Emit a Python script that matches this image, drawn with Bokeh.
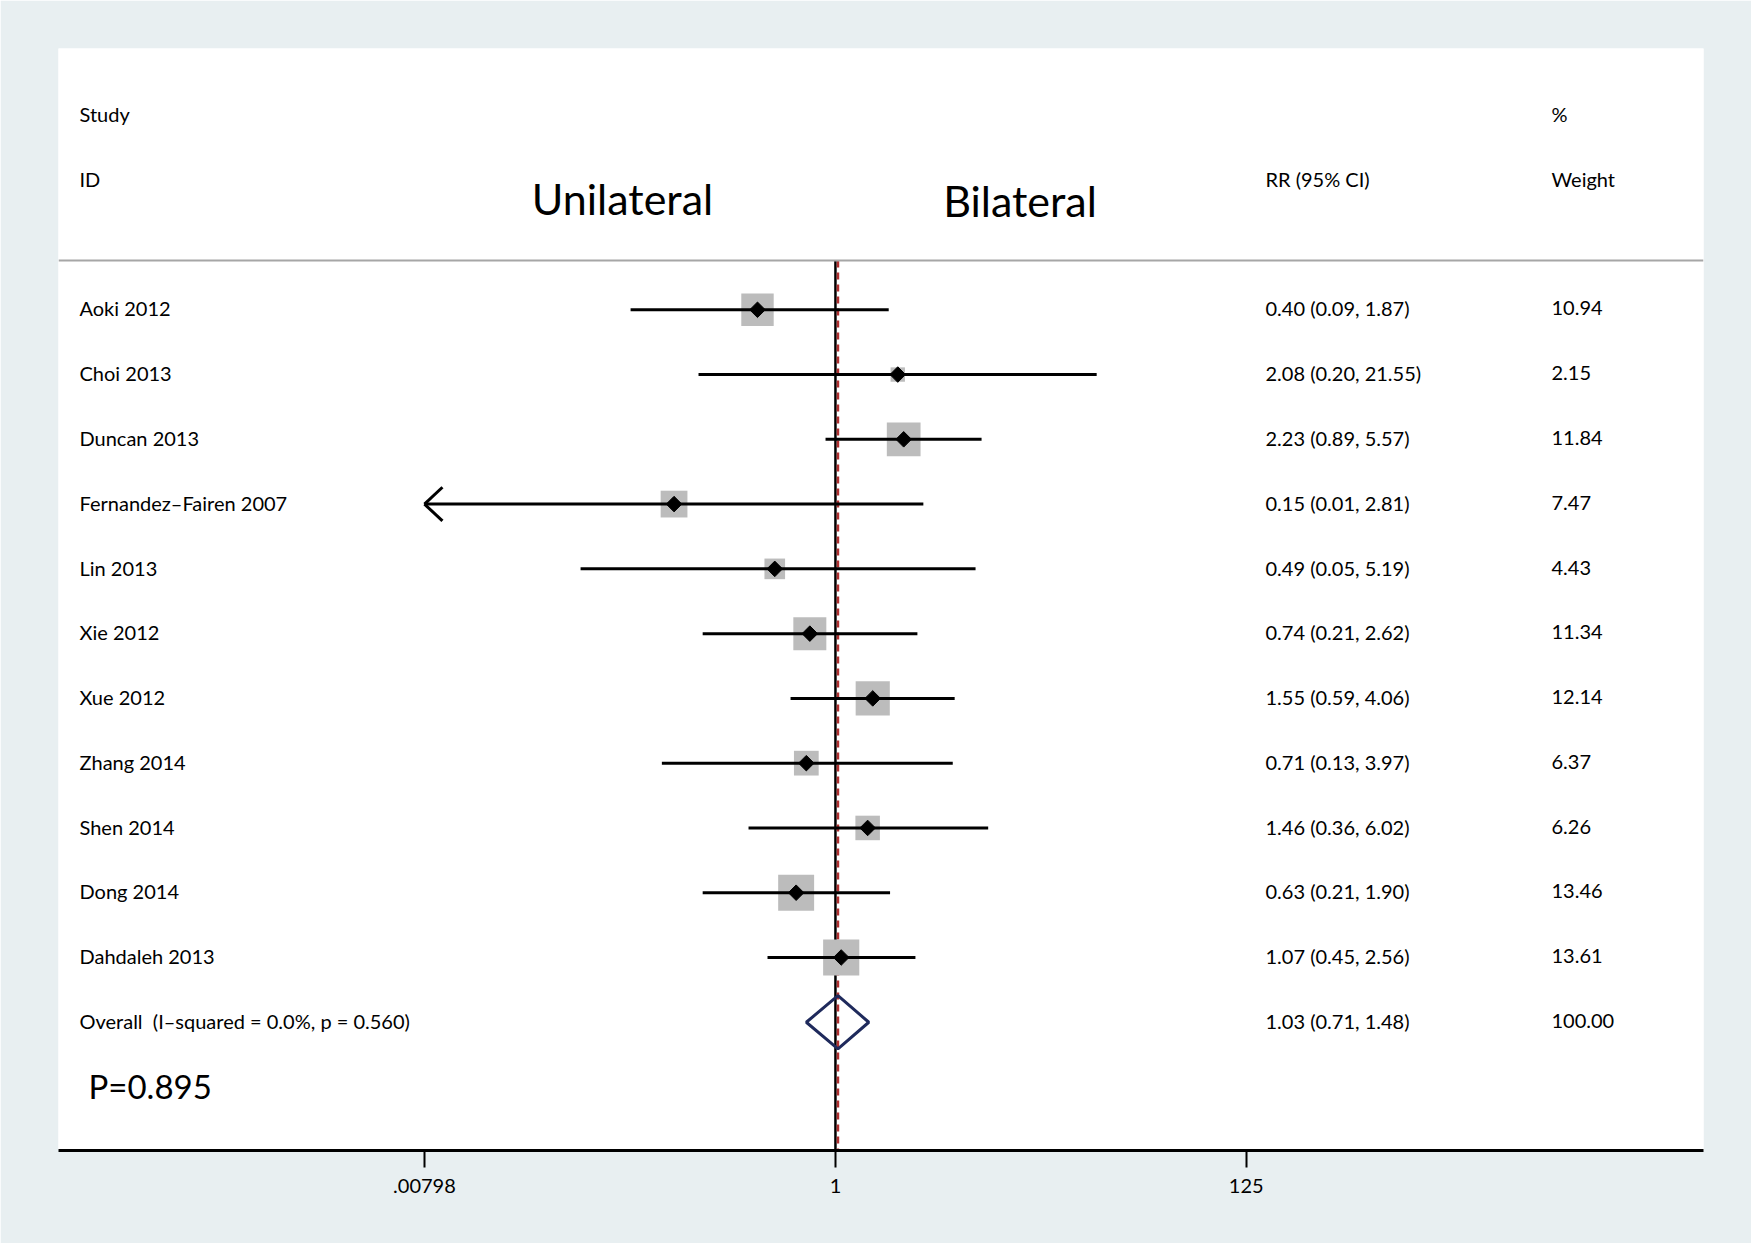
import math
from bokeh.plotting import figure
from bokeh.models import Range1d, LinearScale, FixedTicker, Span
from bokeh.core.properties import value
from bokeh.embed import file_html
from bokeh.resources import INLINE

# ---------------- data ----------------
studies = ["Aoki 2012", "Choi 2013", "Duncan 2013", "Fernandez–Fairen 2007", "Lin 2013",
           "Xie 2012", "Xue 2012", "Zhang 2014", "Shen 2014", "Dong 2014", "Dahdaleh 2013"]
rr = [0.40, 2.08, 2.23, 0.15, 0.49, 0.74, 1.55, 0.71, 1.46, 0.63, 1.07]
ci_lo = [0.09, 0.20, 0.89, 0.01, 0.05, 0.21, 0.59, 0.13, 0.36, 0.21, 0.45]
ci_hi = [1.87, 21.55, 5.57, 2.81, 5.19, 2.62, 4.06, 3.97, 6.02, 1.90, 2.56]
weight = [10.94, 2.15, 11.84, 7.47, 4.43, 11.34, 12.14, 6.37, 6.26, 13.46, 13.61]
ci_beyond_axis = [False, False, False, True, False, False, False, False, False, False, False]
overall_label = "Overall\u00a0 (I–squared = 0.0%, p = 0.560)"
overall_rr = 1.03
overall_lo = 0.71
overall_hi = 1.48
overall_weight = 100.00
tick_values = [0.00798, 1, 125]
tick_labels = [".00798", "1", "125"]
header_left = ["Study", "ID"]
header_rr = "RR (95% CI)"
header_w = ["%", "Weight"]
side_labels = ["Unilateral", "Bilateral"]
p_text = "P=0.895"

# ---------------- style ----------------
FONT = "Lato"
BG = "#e8eff1"
n = len(studies)
rows = list(range(n))
overall_row = n
px_per_decade = 195.9
frame_w = 1645

p = figure(width=1751, height=1243, x_axis_type="log",
           x_range=Range1d(10 ** -3.966, 10 ** 4.431),
           y_range=Range1d(12.98, -4.034),
           output_backend="svg", toolbar_location=None,
           min_border_left=58, min_border_right=48, min_border_top=48, min_border_bottom=93,
           y_axis_location=None)
p.extra_x_ranges = {"txt": Range1d(0, frame_w)}
p.extra_x_scales = {"txt": LinearScale()}
p.grid.visible = False
p.outline_line_color = None
p.background_fill_color = "white"
p.border_fill_color = BG

ax = p.xaxis[0]
ax.ticker = FixedTicker(ticks=tick_values, minor_ticks=[])
ax.major_label_overrides = {v: l for v, l in zip(tick_values, tick_labels)}
ax.axis_line_width = 3
ax.axis_line_color = "black"
ax.major_tick_line_width = 2
ax.major_tick_line_color = "black"
ax.major_tick_out = 17
ax.major_tick_in = 0
ax.minor_tick_line_color = None
ax.major_label_text_font = FONT
ax.major_label_text_font_size = "20px"
ax.major_label_text_color = "black"
ax.major_label_standoff = 11

# separator
sep_y = -0.76
p.add_layout(Span(location=sep_y, dimension="width", line_color="#a6a6a6", line_width=2))

# reference line (no effect) and overall estimate line
y_bottom = p.y_range.start
p.segment(x0=[1], y0=[sep_y], x1=[1], y1=[y_bottom], line_color="black", line_width=2.5)
p.segment(x0=[overall_rr], y0=[sep_y], x1=[overall_rr], y1=[y_bottom],
          line_color="#b03030", line_width=2.5, line_dash="7 5")

# weight squares
sizes = [9.8 * math.sqrt(w) for w in weight]
p.scatter(x=rr, y=rows, size=sizes, marker="square", fill_color="#bcbcbc", line_color=None)

# CI lines
x0 = [tick_values[0] if b else lo for lo, b in zip(ci_lo, ci_beyond_axis)]
p.segment(x0=x0, y0=rows, x1=ci_hi, y1=rows, line_color="black", line_width=3)

# arrow heads for CIs beyond axis
head_len = 10 ** (18 / px_per_decade)
ax_x, ax_y, bx, by = [], [], [], []
for r, b in zip(rows, ci_beyond_axis):
    if b:
        for dy in (-0.26, 0.26):
            ax_x.append(tick_values[0]); ax_y.append(r)
            bx.append(tick_values[0] * head_len); by.append(r + dy)
p.segment(x0=ax_x, y0=ax_y, x1=bx, y1=by, line_color="black", line_width=3)

# point estimates
p.scatter(x=rr, y=rows, size=11, marker="square", angle=math.pi / 4,
          fill_color="black", line_color="black")

# overall diamond
h = 0.41
p.patch(x=[overall_lo, overall_rr, overall_hi, overall_rr],
        y=[overall_row, overall_row - h, overall_row, overall_row + h],
        fill_color=None, line_color="#1f2a5c", line_width=3)

# ---------------- texts ----------------
def txt(x, y, t, size="20px", align="left"):
    p.text(x=x, y=y, text=t, x_range_name="txt", text_font=value(FONT),
           text_font_size=size, text_align=align, text_baseline="middle", text_color="black")

col_study = 21
col_rr = 1207
col_w = 1493
dy_txt = -0.02

txt([col_study] * (n + 1), [r + dy_txt for r in rows + [overall_row]], studies + [overall_label])
rr_txt = [f"{r:.2f} ({l:.2f}, {hh:.2f})" for r, l, hh in zip(rr, ci_lo, ci_hi)]
rr_txt.append(f"{overall_rr:.2f} ({overall_lo:.2f}, {overall_hi:.2f})")
txt([col_rr] * (n + 1), [r + dy_txt for r in rows + [overall_row]], rr_txt)
w_txt = [f"{w:.2f}" for w in weight] + [f"{overall_weight:.2f}"]
txt([col_w] * (n + 1), [r + dy_txt for r in rows + [overall_row]], w_txt)

txt([col_study, col_study], [-3.02, -2.02], header_left)
txt([col_rr], [-2.02], [header_rr])
txt([col_w, col_w], [-3.02, -2.02], header_w)
txt([564, 961.5], [-1.72, -1.69], side_labels, size="43px", align="center")
txt([30], [overall_row + 0.98], [p_text], size="33px")

open("out.html", "w").write(file_html(p, INLINE))
